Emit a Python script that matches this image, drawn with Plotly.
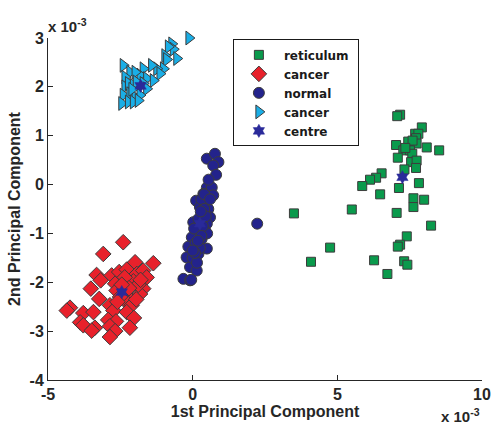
import plotly.graph_objects as go

# reticulum (green squares), values in units of 1e-3
ret_x = [7.17, 7.07, 7.92, 7.69, 7.80, 7.72, 7.45, 7.74, 7.03, 8.09, 8.52, 7.28, 7.51, 7.59,
         7.09, 7.55, 7.74, 7.72, 7.32, 6.53, 6.34, 6.13, 5.86, 7.82, 7.13, 6.48, 7.63, 8.00,
         7.63, 5.50, 7.05, 8.24, 7.40, 7.17, 7.09, 4.75, 4.09, 6.27, 7.31, 7.42, 6.73, 3.50,
         7.60, 7.35]
ret_y = [1.43, 1.40, 1.17, 1.04, 1.04, 0.95, 0.88, 0.84, 0.81, 0.76, 0.70, 0.70, 0.70, 0.63,
         0.55, 0.46, 0.49, 0.34, 0.31, 0.23, 0.14, 0.10, -0.03, 0.03, -0.07, -0.20, -0.28, -0.31,
         -0.46, -0.51, -0.58, -0.84, -1.06, -1.23, -1.27, -1.29, -1.58, -1.55, -1.57, -1.64, -1.83, -0.59,
         0.90, 0.75]

# cancer (red diamonds)
can1_x = [-2.40, -3.09, -1.36, -1.99, -3.32, -3.18, -2.80, -2.54, -2.28, -1.93, -1.71, -1.59,
          -3.52, -2.68, -2.17, -1.93, -1.71, -2.63, -2.28, -1.82, -3.23, -2.86, -2.28, -2.11,
          -2.74, -2.28, -4.24, -4.35, -3.78, -3.43, -2.03, -2.92, -2.65, -3.89, -3.78, -3.38,
          -3.49, -2.86, -2.17, -2.68, -2.86, -2.51, -2.05, -1.88, -2.35, -2.60, -1.95, -2.20,
          -1.80, -2.45]
can1_y = [-1.18, -1.42, -1.61, -1.59, -1.85, -1.96, -1.86, -1.79, -1.74, -1.83, -1.76, -1.90,
          -2.13, -2.03, -2.03, -2.03, -2.13, -2.17, -2.27, -2.24, -2.34, -2.47, -2.41, -2.47,
          -2.58, -2.61, -2.52, -2.58, -2.63, -2.61, -2.73, -2.77, -2.80, -2.82, -2.88, -2.93,
          -2.99, -2.90, -2.93, -3.00, -3.12, -2.30, -1.98, -2.05, -1.90, -2.40, -2.35, -2.12,
          -1.95, -2.05]

# normal (navy circles)
norm_x = [0.49, 0.77, 0.89, 0.71, 0.81, 0.49, 0.66, 0.71, 0.37, 0.12, 0.43, 0.25, 0.54, 0.31,
          0.60, 0.02, 0.25, 0.49, 0.14, 0.43, -0.03, 0.31, 0.02, 0.49, -0.15, 0.20, -0.21, -0.09,
          0.14, -0.32, -0.09, 2.23, 0.30, 0.40, 0.20, 0.35, 0.10, 0.25, 0.00, 0.15, 0.50, 0.40,
          0.55, 0.60, 0.35, 0.05, 0.30, 0.45, 0.18, 0.08, -0.05, 0.28, 0.00]
norm_y = [0.53, 0.63, 0.46, 0.39, 0.20, -0.06, -0.06, -0.22, -0.19, -0.33, -0.39, -0.46, -0.50,
          -0.60, -0.67, -0.77, -0.80, -0.80, -0.94, -0.94, -1.08, -1.11, -1.25, -1.31, -1.27,
          -1.42, -1.49, -1.69, -1.76, -1.93, -1.96, -0.80, -0.30, -0.20, -0.70, -1.00, -1.20,
          -1.30, -1.50, -1.60, -1.00, -0.50, 0.10, -0.30, -0.85, -0.90, -1.05, -0.65, -1.15,
          -1.40, -1.95, -0.55, -1.35]

# cancer (cyan triangles)
can2_x = [-0.13, -0.72, -0.67, -0.84, -0.55, -0.96, -0.90, -1.01, -1.24, -1.13, -1.42, -1.71,
          -1.82, -2.40, -2.17, -1.99, -1.59, -1.36, -2.34, -2.34, -2.22, -2.05, -1.71, -1.59,
          -2.40, -2.17, -1.99, -1.82, -2.45, -2.22, -2.05, -1.88, -1.95, -2.10]
can2_y = [3.00, 2.88, 2.77, 2.82, 2.58, 2.64, 2.56, 2.37, 2.37, 2.27, 2.44, 2.37, 2.24, 2.44,
          2.30, 2.30, 2.17, 2.13, 2.20, 2.00, 2.07, 2.03, 2.07, 1.96, 1.83, 1.86, 1.79, 1.83,
          1.66, 1.69, 1.69, 1.72, 2.10, 1.95]

# cluster centres
cen_x = [7.25, -2.45, 0.25, -1.80]
cen_y = [0.15, -2.20, -0.80, 2.02]

x_ticks = [-5, 0, 5, 10]
y_ticks = [-4, -3, -2, -1, 0, 1, 2, 3]

edge = dict(color="#3c3c3c", width=1)
fig = go.Figure()
fig.add_trace(go.Scatter(x=ret_x, y=ret_y, mode="markers", name="reticulum\u00a0", cliponaxis=False,
                         marker=dict(symbol="square", size=9, color="#0a9a4c", line=edge)))
fig.add_trace(go.Scatter(x=can1_x, y=can1_y, mode="markers", name="cancer", cliponaxis=False,
                         marker=dict(symbol="diamond", size=12, color="#e8212b", line=edge)))
fig.add_trace(go.Scatter(x=norm_x, y=norm_y, mode="markers", name="normal", cliponaxis=False,
                         marker=dict(symbol="circle", size=11, color="#23238c", line=edge)))
fig.add_trace(go.Scatter(x=can2_x, y=can2_y, mode="markers", name="cancer", cliponaxis=False,
                         marker=dict(symbol="triangle-right", size=12, color="#1aaee6", line=edge)))
fig.add_trace(go.Scatter(x=cen_x, y=cen_y, mode="markers", name="centre", cliponaxis=False,
                         marker=dict(symbol="hexagram", size=10, color="#2a2a9a",
                                     line=dict(color="#2a2a9a", width=0.5))))

tfont = dict(family="Liberation Sans", size=16, color="#262626", weight="bold")
axfont = dict(family="Liberation Sans", size=16, color="#262626", weight="bold")
fig.update_layout(
    width=491, height=425,
    margin=dict(l=48, r=9, t=38, b=45),
    plot_bgcolor="white", paper_bgcolor="white",
    showlegend=True,
    legend=dict(x=0.426, y=0.996, xanchor="left", yanchor="top",
                bgcolor="white", bordercolor="#1a1a1a", borderwidth=1,
                font=dict(family="DejaVu Sans", size=12, color="#1a1a1a", weight="bold"),
                tracegroupgap=0, itemwidth=40),
    xaxis=dict(range=[-5, 10], tickvals=x_ticks, ticktext=[str(v) for v in x_ticks],
               automargin=False,
               showgrid=False, zeroline=False, showline=True, linecolor="#262626", linewidth=1,
               ticks="inside", ticklen=5, tickcolor="#262626", tickfont=tfont,
               title=dict(text="1st Principal Component", font=axfont, standoff=0)),
    yaxis=dict(range=[-4, 3], tickvals=y_ticks, ticktext=[str(v) for v in y_ticks],
               automargin=False,
               showgrid=False, zeroline=False, showline=True, linecolor="#262626", linewidth=1,
               ticks="inside", ticklen=5, tickcolor="#262626", tickfont=tfont,
               title=dict(text="2nd Principal Component", font=axfont, standoff=4)),
    annotations=[
        dict(text="x 10<sup>-3</sup>", xref="paper", yref="paper", x=0.0, y=1.0,
             xanchor="left", yanchor="bottom", showarrow=False, xshift=-2, yshift=1,
             font=dict(family="Liberation Sans", size=15, color="#262626", weight="bold")),
        dict(text="x 10<sup>-3</sup>", xref="paper", yref="paper", x=1.0, y=0.0,
             xanchor="right", yanchor="top", showarrow=False, yshift=-24,
             font=dict(family="Liberation Sans", size=15, color="#262626", weight="bold")),
    ],
)
fig.write_html("out.html")
